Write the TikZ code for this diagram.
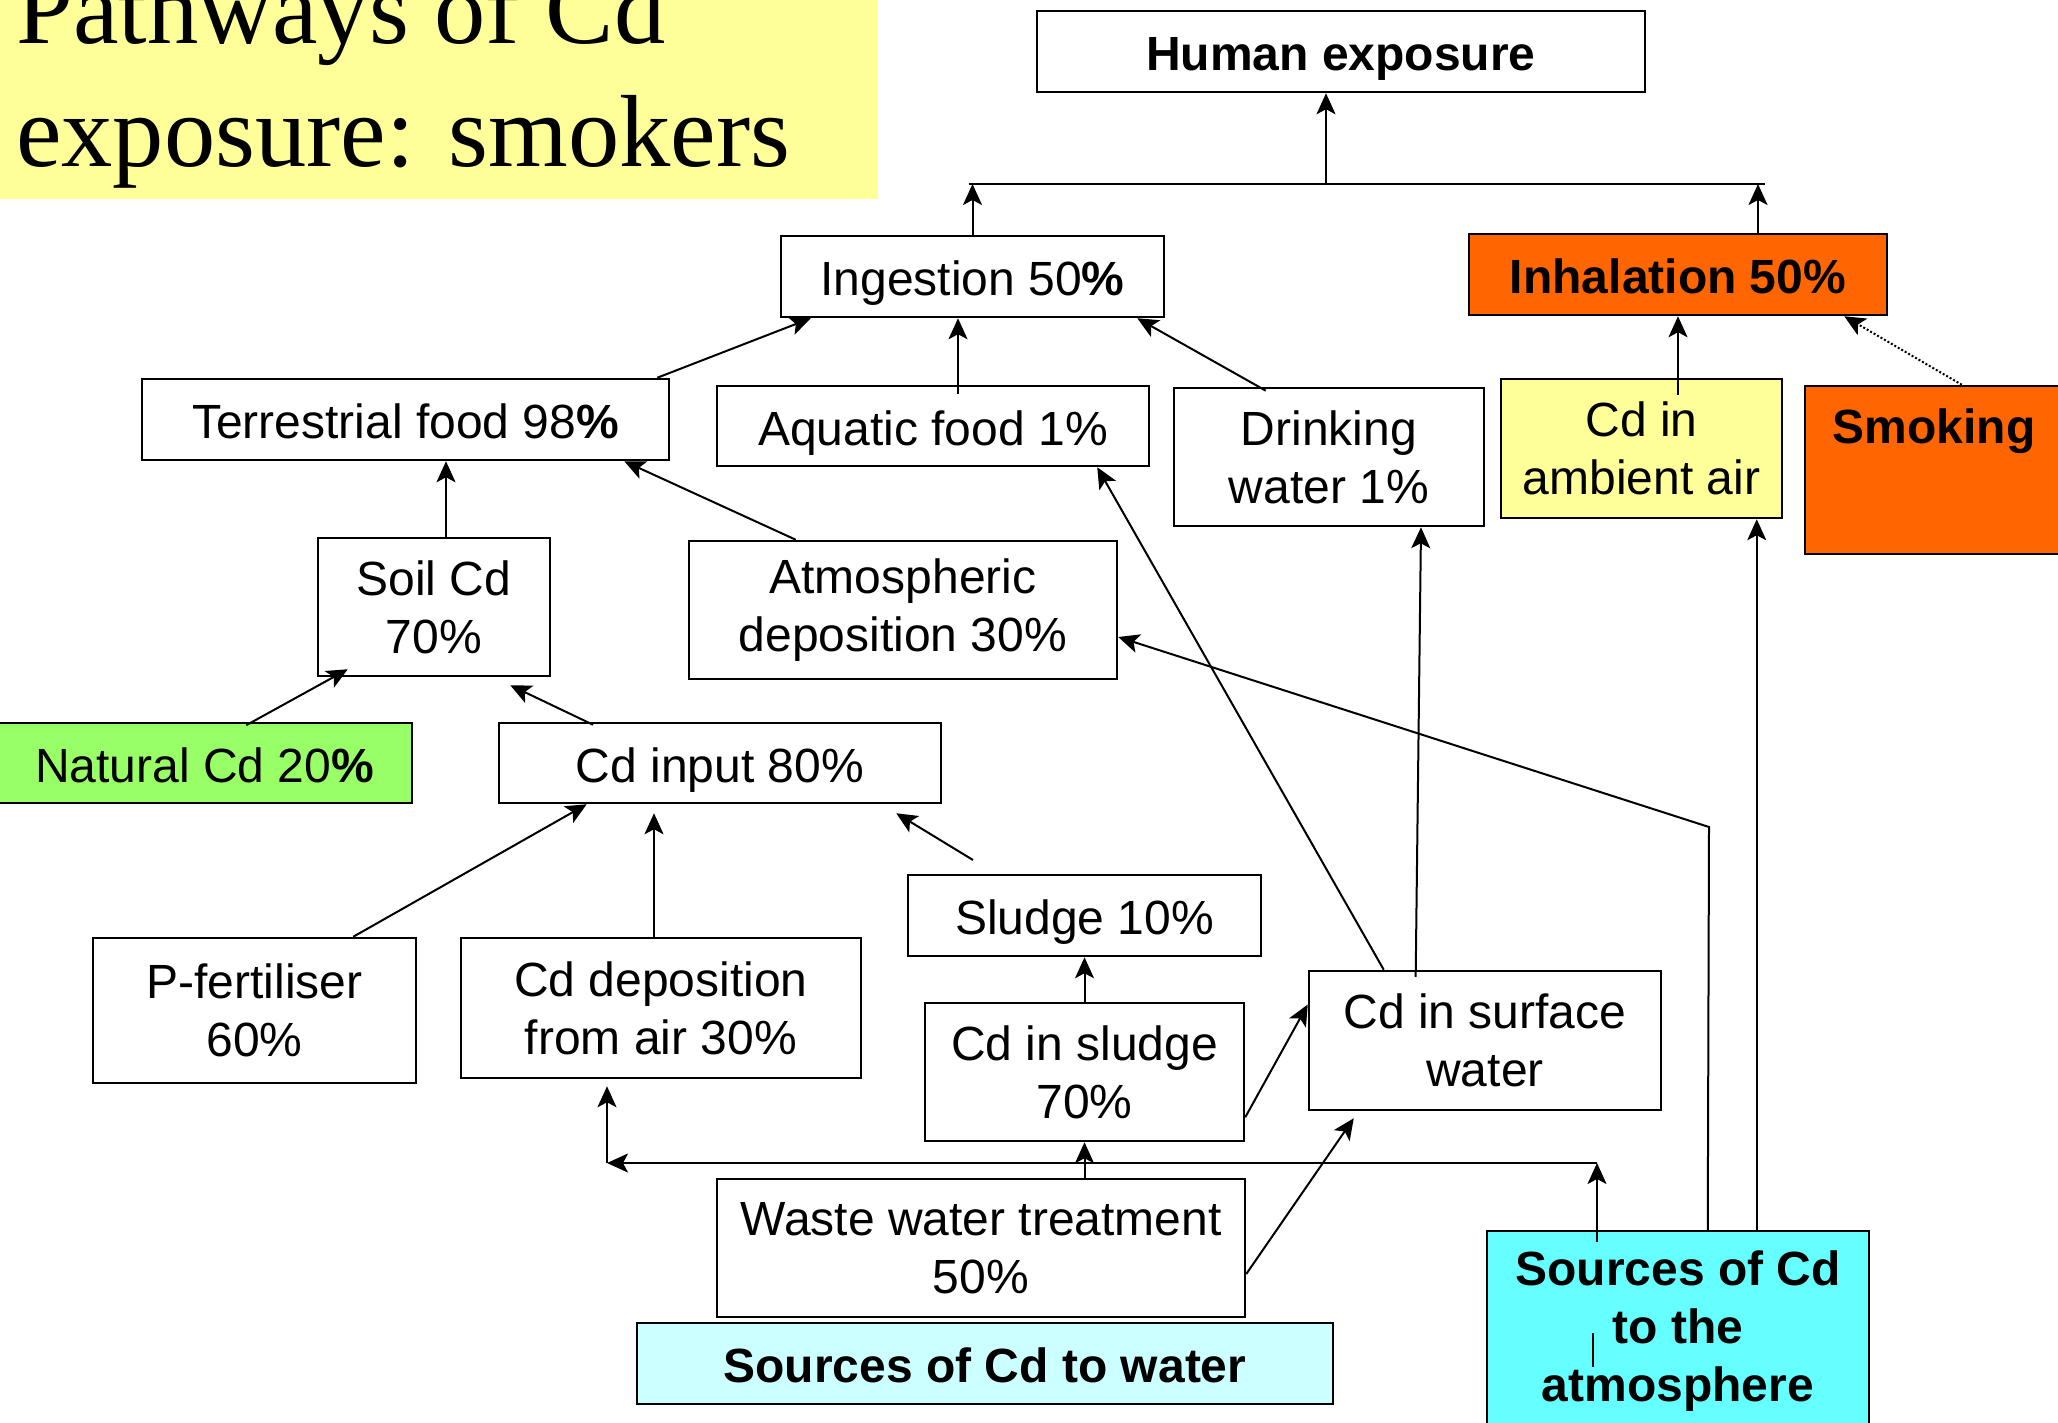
\documentclass[tikz,border=0pt]{standalone}
\usepackage{fontspec}
\setmainfont{Liberation Sans}
\newfontfamily\titlefont{Liberation Serif}
\usetikzlibrary{arrows.meta}
\definecolor{orng}{HTML}{FF6600}
\definecolor{ylw}{HTML}{FFFF99}
\definecolor{grn}{HTML}{99FF66}
\definecolor{lcyan}{HTML}{CCFFFF}
\definecolor{cyn}{HTML}{66FFFF}
\newcommand\fsz{\fontsize{48}{58}\selectfont}
\begin{document}
\begin{tikzpicture}[x=1pt,y=-1pt,
  box/.style={draw, line width=2.5pt, fill=white, inner sep=0pt, align=center, font=\fsz},
  boldbox/.style={box, font=\fsz\bfseries},
  oneline/.style={text height=38pt, text depth=0pt},
  arr/.style={line width=2pt, -{Stealth[length=21pt,width=19pt,inset=5pt]}},
  barline/.style={line width=2.2pt},
  titletext/.style={anchor=base west, inner sep=0pt, font=\titlefont\fontsize{102.5}{123}\selectfont}]
\useasboundingbox (0,0) rectangle (2058,1423);
\clip (0,0) rectangle (2058,1423);
\fill[white] (0,0) rectangle (2058,1423);
% title
\fill[ylw] (0,0) rectangle (878,199);
\node[titletext] (t1) at (16,44) {Pathways of Cd};
\node[titletext] (t2) at (16,167) {exposure: smokers};
% boxes
\node[boldbox, oneline, minimum width=608pt, minimum height=81pt] (human) at (1341,51.5) {Human exposure};
\node[box, oneline, minimum width=383pt, minimum height=81pt] (ingestion) at (972.5,276.5) {Ingestion 50\textbf{\%}};
\node[boldbox, oneline, fill=orng, minimum width=418pt, minimum height=81pt] (inhalation) at (1678,274.5) {Inhalation 50\%};
\node[box, oneline, minimum width=527pt, minimum height=81pt] (terr) at (405.5,419.5) {Terrestrial food 98\textbf{\%}};
\node[box, oneline, minimum width=432pt, minimum height=80pt] (aquatic) at (933,426) {Aquatic food 1\%};
\node[box, minimum width=310pt, minimum height=138pt] (drinking) at (1329,457) {Drinking\\water 1\%};
\node[box, fill=ylw, minimum width=281pt, minimum height=139pt] (ambient) at (1641.5,448.5) {Cd in\\ambient air};
\node[box, fill=orng, minimum width=270pt, minimum height=168pt] (smoking) at (1940,470) {};
\node[font=\fsz\bfseries, inner sep=0pt] (smokingtext) at (1934,431) {Smoking};
\node[box, minimum width=232pt, minimum height=138pt] (soil) at (434,607) {Soil Cd\\70\%};
\node[box, minimum width=428pt, minimum height=138pt] (atmdep) at (903,610) {Atmospheric\\deposition 30\%};
\node[box, oneline, fill=grn, minimum width=415pt, minimum height=80pt] (natural) at (204.5,763) {Natural Cd 20\textbf{\%}};
\node[box, oneline, minimum width=442pt, minimum height=80pt] (cdinput) at (720,763) {Cd input 80\%};
\node[box, oneline, minimum width=353pt, minimum height=81pt] (sludge) at (1084.5,915.5) {Sludge 10\%};
\node[box, minimum width=323pt, minimum height=145pt] (pfert) at (254.5,1010.5) {P-fertiliser\\60\%};
\node[box, minimum width=400pt, minimum height=140pt] (cddep) at (661,1008) {Cd deposition\\from air 30\%};
\node[box, minimum width=319pt, minimum height=138pt] (cdsludge) at (1084.5,1072) {Cd in sludge\\70\%};
\node[box, minimum width=352pt, minimum height=139pt] (surface) at (1485,1040.5) {Cd in surface\\water};
\node[box, minimum width=528pt, minimum height=138pt] (waste) at (981,1248) {Waste water treatment\\50\%};
\node[boldbox, oneline, fill=lcyan, minimum width=696pt, minimum height=81pt] (srcwater) at (985,1363.5) {Sources of Cd to water};
\node[boldbox, fill=cyn, minimum width=382pt, minimum height=200pt] (srcatm) at (1678,1331) {Sources of Cd\\to the\\atmosphere};
% top bar
\coordinate (barL) at (969,184);
\coordinate (barR) at (1765,184);
\coordinate (barM) at (1326,184);
\draw[barline] (barL) -- (barR);
\draw[arr] (barM) -- (barM |- human.south);
\draw[arr] (ingestion.north) -- (ingestion.north |- barL);
\coordinate (inhT) at ([xshift=80pt]inhalation.north);
\draw[arr] (inhT) -- (inhT |- barL);
% into ingestion / inhalation
\draw[arr] ([xshift=-13pt]terr.north east) -- ([xshift=31pt]ingestion.south west);
\coordinate (aqT) at ([xshift=25pt]aquatic.north);
\draw[arr, shorten <=-9pt] (aqT) -- (aqT |- ingestion.south);
\draw[arr, shorten <=-8pt] ([xshift=86pt]drinking.north west) -- ([xshift=-28pt]ingestion.south east);
\draw[arr, shorten <=-17pt] (inhalation.south |- ambient.north) -- (inhalation.south);
\draw[arr, dotted] ([xshift=158pt]smoking.north west) -- ([xshift=-44pt]inhalation.south east);
% terrestrial food
\coordinate (soilT) at ([xshift=12pt]soil.north);
\draw[arr] (soilT) -- (soilT |- terr.south);
\draw[arr] ([xshift=108pt]atmdep.north west) -- ([xshift=-46pt]terr.south east);
% soil
\draw[arr, shorten <=-7pt] ([xshift=48pt]natural.north) -- ([xshift=31pt,yshift=8pt]soil.south west);
\draw[arr, shorten <=-7pt] ([xshift=89pt]cdinput.north west) -- ([xshift=-41pt,yshift=-8pt]soil.south east);
% Cd input
\draw[arr] ([xshift=-64pt]pfert.north east) -- ([xshift=89pt]cdinput.south west);
\coordinate (cddT) at ([xshift=-7pt]cddep.north);
\coordinate (cdinB) at ([yshift=-9pt]cdinput.south);
\draw[arr] (cddT) -- (cddT |- cdinB);
\coordinate (slF) at (973,860);
\draw[arr] (slF) -- ([xshift=-46pt,yshift=-9pt]cdinput.south east);
% sludge and water
\draw[arr] (cdsludge.north) -- (sludge.south);
\draw[arr] ([yshift=25pt]cdsludge.south east) -- ([yshift=36pt]surface.west);
\draw[arr] (cdsludge.south |- waste.north) -- (cdsludge.south);
\draw[arr] ([yshift=-26pt]waste.east) -- ([xshift=46pt,yshift=-7pt]surface.south west);
% deposition loop
\coordinate (hR) at (1597,1163);
\coordinate (hL) at (607,1163);
\coordinate (cddB) at ([yshift=-7pt]cddep.south);
\draw[arr, shorten <=-12pt] (hR |- srcatm.north) -- (hR);
\draw[arr] (hR) -- (hL);
\draw[arr] (hL) -- (hL |- cddB);
\coordinate (tickA) at (1593,1333);
\coordinate (tickB) at (1593,1367);
\draw[line width=2pt] (tickA) -- (tickB);
% surface water
\draw[arr, shorten <=-7pt] ([xshift=108pt]surface.north west) -- ([xshift=92pt]drinking.south);
\draw[arr] ([xshift=76pt]surface.north west) -- ([xshift=-53pt]aquatic.south east);
% atmosphere
\coordinate (bend) at (1709,827);
\draw[arr] ([xshift=222pt]srcatm.north west) -- (bend) -- ([yshift=-27pt]atmdep.east);
\coordinate (aaT) at ([xshift=271pt]srcatm.north west);
\draw[arr] (aaT) -- (aaT |- ambient.south);
\end{tikzpicture}
\end{document}
